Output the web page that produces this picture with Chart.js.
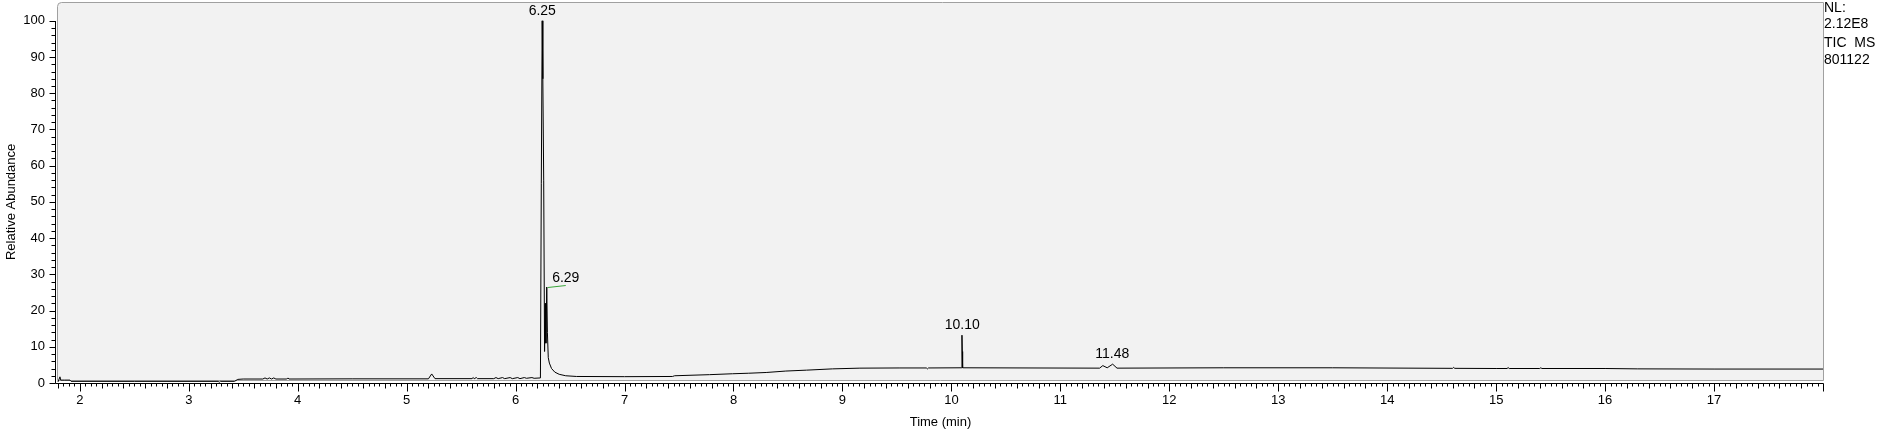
<!DOCTYPE html>
<html>
<head>
<meta charset="utf-8">
<script src="https://cdn.jsdelivr.net/npm/chart.js@4.4.1/dist/chart.umd.min.js"></script>
<style>
  html, body { margin: 0; padding: 0; background: #fff; }
  canvas { display: block; }
</style>
</head>
<body>
<canvas id="chrom" width="1883" height="431"></canvas>
<script>
// retention time (min) and relative abundance
const times = [
  1.80, 1.818, 1.825, 1.86, 1.91, 1.92, 2.50, 3.27, 3.28, 3.29, 3.42, 3.45, 3.50,
  3.68, 3.70, 3.72, 3.74, 3.76, 3.78, 3.80, 3.90, 3.91, 3.92, 4.50, 5.20, 5.23, 5.26,
  5.60, 5.61, 5.62, 5.64, 5.65, 5.80, 5.82, 5.84, 5.88, 5.90, 5.95, 5.97, 6.02, 6.04,
  6.08, 6.10, 6.15, 6.17, 6.228, 6.236, 6.244, 6.250, 6.258, 6.266, 6.272, 6.278,
  6.286, 6.292, 6.300, 6.31, 6.33, 6.36, 6.40, 6.46, 6.56, 7.00, 7.44, 7.46, 7.78,
  7.99, 8.14, 8.30, 8.48, 8.67, 8.91, 9.16, 9.52, 9.77, 9.78, 9.79, 10.093, 10.097,
  10.100, 10.103, 11.36, 11.39, 11.43, 11.48, 11.52, 12.50, 13.50, 14.20, 14.60, 14.61,
  14.62, 15.00, 15.10, 15.11, 15.12, 15.40, 15.41, 15.42, 16.00, 16.30, 17.00, 18.00
];
const abundance = [
  0.3, 1.7, 0.8, 0.8, 0.8, 0.45, 0.45, 0.45, 0.2, 0.45, 0.45, 1.0, 1.1,
  1.1, 1.4, 1.1, 1.4, 1.1, 1.4, 1.1, 1.1, 1.4, 1.1, 1.15, 1.15, 2.5, 1.2,
  1.2, 1.5, 1.2, 1.5, 1.2, 1.2, 1.5, 1.2, 1.5, 1.2, 1.5, 1.2, 1.5, 1.2,
  1.5, 1.3, 1.5, 1.3, 1.4, 55, 100, 84, 56, 8.7, 22, 11,
  26.5, 14, 7, 5.5, 4.0, 3.0, 2.4, 2.0, 1.8, 1.75, 1.8, 2.0, 2.3,
  2.55, 2.7, 2.9, 3.3, 3.55, 3.9, 4.1, 4.15, 4.15, 3.9, 4.15, 4.2, 13.2,
  8.7, 4.2, 4.1, 4.8, 4.2, 5.2, 4.1, 4.2, 4.2, 4.1, 4.05, 4.3,
  4.05, 4.0, 4.0, 4.25, 4.0, 4.0, 4.2, 4.0, 4.0, 3.9, 3.85, 3.85
];

// peak annotations
const peakLabels = ['6.25', '6.29', '10.10', '11.48'];
const peakTimes = [6.245, 6.286, 10.10, 11.476];
const peakTops = [100, 26.5, 13.2, 5.2];

// axes
const xTickLabels = [2, 3, 4, 5, 6, 7, 8, 9, 10, 11, 12, 13, 14, 15, 16, 17];
const yTickLabels = [0, 10, 20, 30, 40, 50, 60, 70, 80, 90, 100];
const sideText = ['NL:', '2.12E8', 'TIC  MS', '801122'];

const FONT = "'Liberation Sans', Arial, sans-serif";

const framePlugin = {
  id: 'frame',
  beforeDraw(chart) {
    const { ctx, chartArea: a } = chart;
    ctx.save();
    ctx.fillStyle = '#fff';
    ctx.fillRect(0, 0, chart.width, chart.height);
    const l = a.left - 0.5, t = 2.5, r = a.right + 0.5, b = a.bottom - 2.5, rad = 4;
    ctx.beginPath();
    ctx.moveTo(l + rad, t);
    ctx.lineTo(r, t);
    ctx.lineTo(r, b);
    ctx.lineTo(l, b);
    ctx.lineTo(l, t + rad);
    ctx.quadraticCurveTo(l, t, l + rad, t);
    ctx.closePath();
    ctx.fillStyle = '#f2f2f2';
    ctx.fill();
    ctx.strokeStyle = '#a0a0a0';
    ctx.lineWidth = 1;
    ctx.stroke();
    ctx.restore();
  },
  afterDraw(chart) {
    const { ctx, chartArea: a } = chart;
    const xs = chart.scales.x, ys = chart.scales.y;
    const axX = a.left - 2.5, axY = Math.round(ys.getPixelForValue(0)) + 0.5;
    ctx.save();
    ctx.strokeStyle = '#000';
    ctx.lineWidth = 1;
    ctx.beginPath();
    // axis lines
    ctx.moveTo(axX, Math.round(ys.getPixelForValue(100)));
    ctx.lineTo(axX, axY);
    ctx.lineTo(a.right + 0.5, axY);
    // y ticks: every 2, long at every 10
    for (let k = 0; k <= 50; k++) {
      const y = Math.round(ys.getPixelForValue(k * 2)) + 0.5;
      const len = k % 5 === 0 ? 6 : 4;
      ctx.moveTo(axX - len, y);
      ctx.lineTo(axX, y);
    }
    // x ticks: every 0.05, medium at 0.2, long at whole minutes
    for (let k = 36; k <= 360; k++) {
      const x = Math.round(xs.getPixelForValue(k / 20)) + 0.5;
      const len = k % 20 === 0 ? 8 : (k % 4 === 0 ? 5 : 3);
      ctx.moveTo(x, axY);
      ctx.lineTo(x, axY + len);
    }
    ctx.stroke();

    // peak labels
    ctx.font = '14px ' + FONT;
    ctx.fillStyle = '#000';
    ctx.textAlign = 'center';
    ctx.textBaseline = 'middle';
    peakLabels.forEach((lab, i) => {
      const px = xs.getPixelForValue(peakTimes[i]);
      const py = ys.getPixelForValue(peakTops[i]);
      if (lab === '6.29') {
        ctx.fillText(lab, px + 19, py - 9);
        ctx.strokeStyle = '#3aa63a';
        ctx.beginPath();
        ctx.moveTo(px + 1, py + 0.5);
        ctx.lineTo(px + 19, py - 1.5);
        ctx.stroke();
      } else {
        ctx.fillText(lab, px, py - 10);
      }
    });

    // side text
    ctx.textAlign = 'left';
    ctx.textBaseline = 'alphabetic';
    const baselines = [12, 28, 47, 64];
    sideText.forEach((s, i) => ctx.fillText(s, a.right + 1, baselines[i]));
    ctx.restore();
  }
};

new Chart(document.getElementById('chrom'), {
  type: 'line',
  data: {
    datasets: [{
      data: times.map((t, i) => ({ x: t, y: abundance[i] })),
      borderColor: '#000',
      borderWidth: 1,
      pointRadius: 0,
      tension: 0,
      fill: false,
      clip: 6
    }]
  },
  options: {
    responsive: false,
    animation: false,
    devicePixelRatio: 1,
    layout: { padding: { top: 18, right: 60, left: 0, bottom: 0 } },
    plugins: { legend: { display: false }, tooltip: { enabled: false } },
    scales: {
      x: {
        type: 'linear',
        min: 1.8,
        max: 18,
        afterBuildTicks: s => { s.ticks = xTickLabels.map(v => ({ value: v })); },
        afterFit: s => { s.height = 48; },
        grid: { display: false, drawTicks: false },
        border: { display: false },
        ticks: { color: '#000', font: { family: FONT, size: 13 }, padding: 10, maxRotation: 0, autoSkip: false },
        title: { display: true, text: 'Time (min)', color: '#000', font: { family: FONT, size: 13 }, padding: { top: 0, bottom: 1 } }
      },
      y: {
        min: 0,
        max: 100,
        afterBuildTicks: s => { s.ticks = yTickLabels.map(v => ({ value: v })); },
        afterFit: s => { s.width = 58; },
        grid: { display: false, drawTicks: false },
        border: { display: false },
        ticks: { color: '#000', font: { family: FONT, size: 13 }, padding: 13 },
        title: { display: true, text: 'Relative Abundance', color: '#000', font: { family: FONT, size: 13 }, padding: { top: 4, bottom: 0 } }
      }
    }
  },
  plugins: [framePlugin]
});
</script>
</body>
</html>
